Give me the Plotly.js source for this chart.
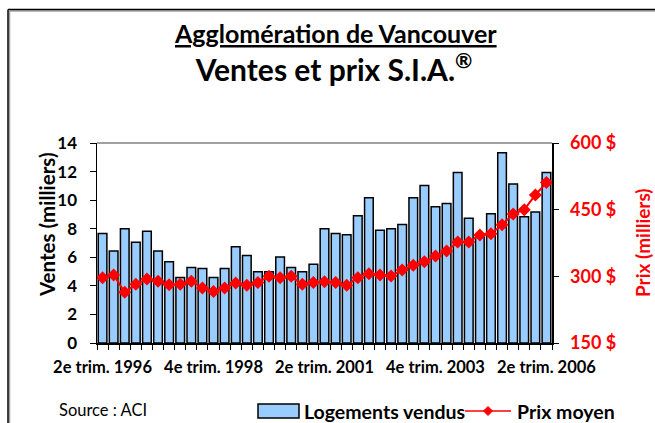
<!DOCTYPE html>
<html>
<head>
<meta charset="utf-8">
<script src="https://cdn.plot.ly/plotly-3.0.1.min.js"></script>
<style>
html,body{margin:0;padding:0;background:#fff;}
#chart{width:655px;height:423px;}
</style>
</head>
<body>
<div id="chart"></div>
<script>
const quarters = [
  "2e trim. 1996","3e trim. 1996","4e trim. 1996",
  "1er trim. 1997","2e trim. 1997","3e trim. 1997","4e trim. 1997",
  "1er trim. 1998","2e trim. 1998","3e trim. 1998","4e trim. 1998",
  "1er trim. 1999","2e trim. 1999","3e trim. 1999","4e trim. 1999",
  "1er trim. 2000","2e trim. 2000","3e trim. 2000","4e trim. 2000",
  "1er trim. 2001","2e trim. 2001","3e trim. 2001","4e trim. 2001",
  "1er trim. 2002","2e trim. 2002","3e trim. 2002","4e trim. 2002",
  "1er trim. 2003","2e trim. 2003","3e trim. 2003","4e trim. 2003",
  "1er trim. 2004","2e trim. 2004","3e trim. 2004","4e trim. 2004",
  "1er trim. 2005","2e trim. 2005","3e trim. 2005","4e trim. 2005",
  "1er trim. 2006","2e trim. 2006"
];
const tickLabels = ["2e trim. 1996","4e trim. 1998","2e trim. 2001","4e trim. 2003","2e trim. 2006"];
// Logements vendus (milliers)
const salesThousands = [
  7.66,6.44,7.99,7.06,7.82,6.44,5.69,4.58,5.28,5.21,
  4.58,5.21,6.74,6.13,4.98,4.98,6.02,5.28,4.98,5.51,
  7.99,7.66,7.57,8.91,10.16,7.89,7.99,8.29,10.16,11.02,
  9.54,9.77,11.94,8.73,7.40,9.05,13.31,11.13,8.84,9.17,
  11.94
];
// Prix moyen (milliers $)
const avgPriceThousands = [
  297,303,264,282,294,289,281,282,289,274,
  266,274,285,280,286,300,297,300,282,286,
  288,286,280,297,306,303,301,314,325,333,
  346,357,377,377,393,396,416,440,450,483,
  511
];
const salesTicks = [0,2,4,6,8,10,12,14];
const priceTicks = [150,300,450,600];
const priceTickText = ["150 $","300 $","450 $","600 $"];
const seriesNames = ["Logements vendus","Prix moyen"];

const FONT = "Lato, 'Open Sans', sans-serif";
const BAR_COLOR = "#99CCFF";
const LINE_COLOR = "#FF0000";
const xIdx = quarters.map((q, i) => i);
const tickIdx = tickLabels.map(t => quarters.indexOf(t));

const traces = [
  {
    type: "bar",
    name: seriesNames[0],
    x: xIdx,
    y: salesThousands,
    marker: {color: BAR_COLOR, line: {color: "#000000", width: 1.5}},
    yaxis: "y",
    showlegend: false
  },
  {
    type: "scatter",
    mode: "lines+markers",
    name: seriesNames[1],
    x: xIdx,
    y: avgPriceThousands,
    yaxis: "y2",
    line: {color: LINE_COLOR, width: 2},
    marker: {symbol: "diamond", size: 10, color: LINE_COLOR},
    showlegend: false
  }
];

const W = 455, H = 200, L = 97, T = 143;
function px2x(p){ return (p - L) / W; }
function py2y(p){ return (T + H - p) / H; }

// legend drawn as shapes + annotations (wide swatch like the original)
const legY = 411;
const dia = (cx, cy, r) =>
  `M${px2x(cx)},${py2y(cy - r)} L${px2x(cx + r)},${py2y(cy)} L${px2x(cx)},${py2y(cy + r)} L${px2x(cx - r)},${py2y(cy)} Z`;

const layout = {
  width: 655,
  height: 423,
  margin: {l: L, r: 655 - L - W, t: T, b: 423 - T - H, pad: 0},
  paper_bgcolor: "#ffffff",
  plot_bgcolor: "#ffffff",
  font: {family: FONT, color: "#000000"},
  bargap: 0.22,
  showlegend: false,
  title: {
    text: "<b>Ventes et prix S.I.A.<sup>®</sup></b>",
    font: {family: FONT, size: 30, color: "#000000"},
    xref: "paper", x: px2x(334), xanchor: "center",
    yref: "container", y: 1 - 70/423, yanchor: "middle"
  },
  xaxis: {
    type: "linear",
    range: [-0.5, quarters.length - 0.5],
    tickmode: "array",
    tickvals: tickIdx,
    ticktext: tickLabels,
    ticks: "",
    ticklabelstandoff: 9,
    tickfont: {family: FONT, size: 16.5, color: "#000000", weight: "bold"},
    showline: true, linecolor: "#000000", linewidth: 1.5,
    showgrid: false, zeroline: false,
    minor: {tickmode: "linear", tick0: -0.5, dtick: 1, ticks: "outside", ticklen: 5, tickwidth: 1, tickcolor: "#000000", showgrid: false}
  },
  yaxis: {
    range: [0, 14],
    tickmode: "array",
    tickvals: salesTicks,
    ticks: "outside", ticklen: 6, tickwidth: 1, tickcolor: "#000000",
    ticklabelstandoff: 9,
    tickfont: {family: FONT, size: 17, color: "#000000", weight: "bold"},
    showline: true, linecolor: "#000000", linewidth: 1.5,
    showgrid: false, zeroline: false
  },
  yaxis2: {
    overlaying: "y",
    side: "right",
    range: [150, 600],
    tickmode: "array",
    tickvals: priceTicks,
    ticktext: priceTickText,
    ticks: "outside", ticklen: 5, tickwidth: 1, tickcolor: "#000000",
    ticklabelstandoff: 8,
    tickfont: {family: FONT, size: 18, color: LINE_COLOR, weight: "bold"},
    showline: true, linecolor: "#000000", linewidth: 1.5,
    showgrid: false, zeroline: false
  },
  annotations: [
    {
      text: "<b><u>Agglomération de Vancouver</u></b>",
      xref: "paper", yref: "paper",
      x: px2x(335), y: py2y(33),
      xanchor: "center", yanchor: "middle",
      showarrow: false,
      font: {family: FONT, size: 25, color: "#000000"}
    },
    {
      text: "<b>Ventes (milliers)</b>",
      xref: "paper", yref: "paper",
      x: px2x(47), y: py2y(225),
      xanchor: "center", yanchor: "middle",
      textangle: -90,
      showarrow: false,
      font: {family: FONT, size: 20.5, color: "#000000"}
    },
    {
      text: "<b>Prix (milliers)</b>",
      xref: "paper", yref: "paper",
      x: px2x(642), y: py2y(243),
      xanchor: "center", yanchor: "middle",
      textangle: -90,
      showarrow: false,
      font: {family: FONT, size: 19, color: LINE_COLOR}
    },
    {
      text: "Source : ACI",
      xref: "paper", yref: "paper",
      x: px2x(57), y: py2y(410),
      xanchor: "left", yanchor: "middle",
      showarrow: false,
      font: {family: FONT, size: 16.5, color: "#000000"}
    },
    {
      text: "<b>" + seriesNames[0] + "</b>",
      xref: "paper", yref: "paper",
      x: px2x(302), y: py2y(legY),
      xanchor: "left", yanchor: "middle",
      showarrow: false,
      font: {family: FONT, size: 19.5, color: "#000000"}
    },
    {
      text: "<b>" + seriesNames[1] + "</b>",
      xref: "paper", yref: "paper",
      x: px2x(515), y: py2y(legY),
      xanchor: "left", yanchor: "middle",
      showarrow: false,
      font: {family: FONT, size: 19.5, color: "#000000"}
    }
  ],
  shapes: [
    // top border of plot area (grey)
    {type: "line", xref: "paper", yref: "paper", x0: 0, x1: 1, y0: 1, y1: 1,
     line: {color: "#808080", width: 1.5}},
    // outer frame (left and top visible), with grey shadow
    {type: "line", xref: "paper", yref: "paper", x0: px2x(9.5), x1: px2x(9.5), y0: py2y(11), y1: py2y(440),
     line: {color: "#a0a0a0", width: 1.5}},
    {type: "line", xref: "paper", yref: "paper", x0: px2x(9.5), x1: px2x(670), y0: py2y(11), y1: py2y(11),
     line: {color: "#a0a0a0", width: 1.5}},
    {type: "line", xref: "paper", yref: "paper", x0: px2x(8), x1: px2x(8), y0: py2y(9.5), y1: py2y(440),
     line: {color: "#000000", width: 1.5}},
    {type: "line", xref: "paper", yref: "paper", x0: px2x(8), x1: px2x(670), y0: py2y(9.5), y1: py2y(9.5),
     line: {color: "#000000", width: 1.5}},
    // legend swatch: bars
    {type: "rect", xref: "paper", yref: "paper", x0: px2x(258), x1: px2x(299), y0: py2y(404), y1: py2y(418),
     fillcolor: BAR_COLOR, line: {color: "#000000", width: 1.5}},
    // legend swatch: line + diamond
    {type: "line", xref: "paper", yref: "paper", x0: px2x(465), x1: px2x(511), y0: py2y(legY), y1: py2y(legY),
     line: {color: LINE_COLOR, width: 1.5}},
    {type: "path", xref: "paper", yref: "paper", path: dia(488, legY, 4.5),
     fillcolor: LINE_COLOR, line: {color: LINE_COLOR, width: 1}}
  ]
};

Plotly.newPlot("chart", traces, layout, {displayModeBar: false, staticPlot: true});
</script>
</body>
</html>
